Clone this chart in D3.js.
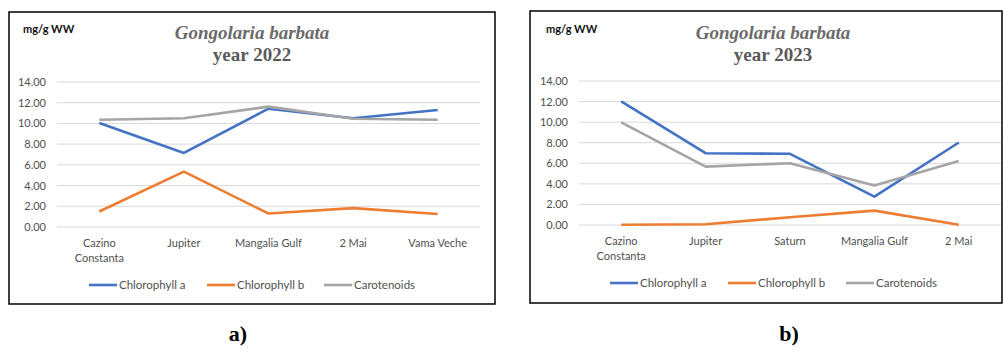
<!DOCTYPE html>
<html><head><meta charset="utf-8">
<script src="https://cdn.jsdelivr.net/npm/d3@7"></script>
<style>body{margin:0;background:#fff}svg{display:block}</style>
</head><body>
<svg id="c" width="1003" height="354"></svg>
<script>
const seriesNames = ["Chlorophyll a", "Chlorophyll b", "Carotenoids"];
const seriesColors = ["#4472C4", "#ED7D31", "#A5A5A5"];
const yTicks = [0, 2, 4, 6, 8, 10, 12, 14];

const categories2022 = ["Cazino Constanta", "Jupiter", "Mangalia Gulf", "2 Mai", "Vama Veche"];
const chlA2022 = [10.05, 7.15, 11.42, 10.5, 11.3];
const chlB2022 = [1.5, 5.35, 1.3, 1.82, 1.25];
const car2022 = [10.35, 10.5, 11.62, 10.45, 10.35];

const categories2023 = ["Cazino Constanta", "Jupiter", "Saturn", "Mangalia Gulf", "2 Mai"];
const chlA2023 = [12.02, 6.98, 6.92, 2.75, 8.02];
const chlB2023 = [0.02, 0.08, 0.75, 1.4, 0.02];
const car2023 = [9.97, 5.68, 6.0, 3.85, 6.22];

const svg = d3.select("#c");
const labelFont = "Lato, 'Open Sans', sans-serif";
const serif = "'Liberation Serif', 'DejaVu Serif', serif";

function panel(cfg) {
  const g = svg.append("g");
  g.append("rect").attr("x", cfg.box[0]).attr("y", cfg.box[1])
    .attr("width", cfg.box[2] - cfg.box[0]).attr("height", cfg.box[3] - cfg.box[1])
    .attr("fill", "#fff").attr("stroke", "#000").attr("stroke-width", 1.5);

  const x = d3.scaleBand().domain(cfg.categories).range([cfg.plot[0], cfg.plot[1]]);
  const y = d3.scaleLinear().domain([0, 14]).range([cfg.plot[3], cfg.plot[2]]);

  g.append("g").selectAll("line").data(yTicks).join("line")
    .attr("x1", cfg.plot[0]).attr("x2", cfg.plot[1])
    .attr("y1", d => y(d)).attr("y2", d => y(d))
    .attr("stroke", "#D9D9D9").attr("stroke-width", 1);

  const yAxis = d3.axisLeft(y).tickValues(yTicks).tickFormat(d3.format(".2f")).tickSize(0).tickPadding(11);
  const ya = g.append("g").attr("transform", `translate(${cfg.plot[0]},0)`).call(yAxis);
  ya.select(".domain").remove();
  ya.selectAll("text").attr("font-family", labelFont).attr("font-size", 11).attr("fill", "#505050");

  const xa = g.append("g").selectAll("text").data(cfg.categories).join("text")
    .attr("x", d => x(d) + x.bandwidth() / 2).attr("y", cfg.plot[3] + 20)
    .attr("text-anchor", "middle").attr("font-family", labelFont).attr("font-size", 11).attr("fill", "#505050");
  xa.each(function(d) {
    const parts = d === "Cazino Constanta" ? ["Cazino", "Constanta"] : [d];
    const t = d3.select(this);
    parts.forEach((p, i) => t.append("tspan").attr("x", x(d) + x.bandwidth() / 2).attr("dy", i ? 14.5 : 0).text(p));
  });

  const line = d3.line().x((d, i) => x(cfg.categories[i]) + x.bandwidth() / 2).y(d => y(d));
  cfg.series.forEach((s, k) => {
    g.append("path").datum(s).attr("d", line).attr("fill", "none")
      .attr("stroke", seriesColors[k]).attr("stroke-width", 2.6).attr("stroke-linejoin", "round");
  });

  g.append("text").attr("x", cfg.titleX).attr("y", 39).attr("text-anchor", "middle")
    .attr("font-family", serif).attr("font-style", "italic").attr("font-weight", "bold")
    .attr("font-size", 19).attr("fill", "#6b6b6b").text("Gongolaria barbata");
  g.append("text").attr("x", cfg.titleX).attr("y", 61).attr("text-anchor", "middle")
    .attr("font-family", serif).attr("font-weight", "bold")
    .attr("font-size", 19).attr("fill", "#595959").text(cfg.year);

  g.append("text").attr("x", cfg.unitX).attr("y", 33)
    .attr("font-family", labelFont).attr("font-weight", "bold").attr("font-size", 11)
    .attr("fill", "#111").text("mg/g WW");

  const lg = g.append("g").selectAll("g").data(seriesNames).join("g")
    .attr("transform", (d, i) => `translate(${cfg.legendX[i]},${cfg.legendY})`);
  lg.append("line").attr("x1", 0).attr("x2", 28).attr("y1", 0).attr("y2", 0)
    .attr("stroke", (d, i) => seriesColors[i]).attr("stroke-width", 2.6);
  lg.append("text").attr("x", 30).attr("y", 4).attr("font-family", labelFont)
    .attr("font-size", 11.5).attr("fill", "#505050").text(d => d);

  svg.append("text").attr("x", cfg.tagX).attr("y", 341).attr("text-anchor", "middle")
    .attr("font-family", serif).attr("font-weight", "bold").attr("font-size", 22)
    .attr("fill", "#000").text(cfg.tag);
}

panel({
  box: [9, 12, 495, 304], plot: [57, 480, 82, 227],
  categories: categories2022, series: [chlA2022, chlB2022, car2022],
  titleX: 252, year: "year 2022", unitX: 23,
  legendX: [89, 207, 324], legendY: 285, tagX: 238, tag: "a)"
});
panel({
  box: [530, 11, 1002, 303], plot: [579, 1001, 81, 225],
  categories: categories2023, series: [chlA2023, chlB2023, car2023],
  titleX: 773, year: "year 2023", unitX: 546,
  legendX: [610, 728, 846], legendY: 283, tagX: 789, tag: "b)"
});
</script>
</body></html>
